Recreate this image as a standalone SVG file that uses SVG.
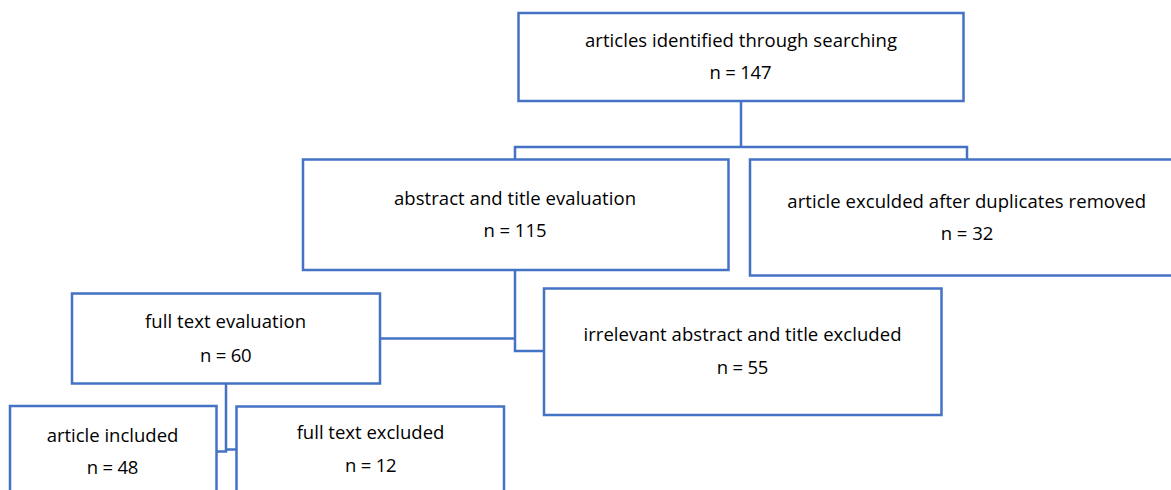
<svg xmlns="http://www.w3.org/2000/svg" width="1171" height="490" viewBox="0 0 1171 490">
  <style>
    .box { fill: #ffffff; stroke: #4472C4; stroke-width: 2.5; }
    .conn { fill: none; stroke: #4472C4; stroke-width: 2.5; }
    .t { font-family: "Open Sans", "Liberation Sans", sans-serif; font-size: 18.5px; fill: #000000; text-anchor: middle; }
  </style>
  <rect width="1171" height="490" fill="#ffffff"/>
  <g id="connectors">
    <path class="conn" d="M741,101 V147"/>
    <path class="conn" d="M515,159 V147 H967 V159"/>
    <path class="conn" d="M515,270 V351 H544"/>
    <path class="conn" d="M380,338.5 H515"/>
    <path class="conn" d="M226,383.5 V451.5 H216.5"/>
    <path class="conn" d="M226,449.5 H236.5"/>
  </g>
  <g id="n-identified">
    <rect class="box" x="518.5" y="13" width="445" height="88"/>
    <text class="t" x="741" y="46.5" textLength="312">articles identified through searching</text>
    <text class="t" x="740.5" y="79" textLength="62">n = 147</text>
  </g>
  <g id="n-abstract">
    <rect class="box" x="303" y="159.5" width="425.5" height="110.5"/>
    <text class="t" x="515" y="205" textLength="242">abstract and title evaluation</text>
    <text class="t" x="515" y="237.3" textLength="63">n = 115</text>
  </g>
  <g id="n-duplicates">
    <rect class="box" x="750" y="159.5" width="430" height="116"/>
    <text class="t" x="966.7" y="207.5" textLength="358.7">article exculded after duplicates removed</text>
    <text class="t" x="967" y="240" textLength="52.7">n = 32</text>
  </g>
  <g id="n-irrelevant">
    <rect class="box" x="544" y="288.5" width="397.5" height="126.5"/>
    <text class="t" x="742.5" y="341" textLength="318">irrelevant abstract and title excluded</text>
    <text class="t" x="742.5" y="374" textLength="51.7">n = 55</text>
  </g>
  <g id="n-fulltext">
    <rect class="box" x="72" y="293.5" width="308" height="90"/>
    <text class="t" x="225.5" y="328.3" textLength="161">full text evaluation</text>
    <text class="t" x="225.8" y="361.7" textLength="51.7">n = 60</text>
  </g>
  <g id="n-included">
    <rect class="box" x="10" y="406" width="206.5" height="100"/>
    <text class="t" x="112.5" y="442.3" textLength="131.7">article included</text>
    <text class="t" x="112.5" y="474.3" textLength="51.7">n = 48</text>
  </g>
  <g id="n-excluded">
    <rect class="box" x="236.5" y="406.5" width="267.5" height="100"/>
    <text class="t" x="370.5" y="439" textLength="147.7">full text excluded</text>
    <text class="t" x="370.8" y="472.3" textLength="51.7">n = 12</text>
  </g>
</svg>
